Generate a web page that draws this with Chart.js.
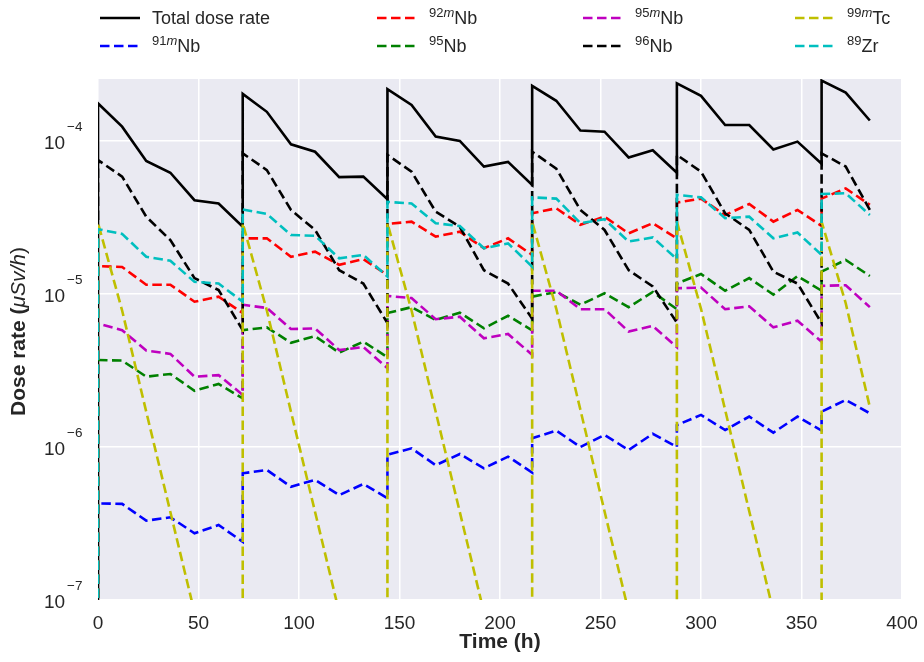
<!DOCTYPE html>
<html>
<head>
<meta charset="utf-8">
<script src="https://cdn.jsdelivr.net/npm/chart.js@4/dist/chart.umd.min.js"></script>
<style>
  body { margin: 0; background: #fff; }
  #wrap { position: relative; width: 924px; height: 662px; font-family: "Liberation Sans", Arial, sans-serif; color: #262626; }
  .item { position: absolute; display: flex; align-items: center; height: 20px; font-size: 18px; white-space: nowrap; }
  .item svg { margin-right: 12px; }
  .item sup { font-size: 13px; vertical-align: 0; position: relative; top: -7px; }
</style>
</head>
<body>
<div id="wrap">
  <canvas id="chart" width="924" height="662"></canvas>
</div>
<script>
// time points (h): each irradiation at 72 h steps gives a jump at the same time value
const times = [0, 0, 12, 24, 36, 48, 60, 72,
  72, 84, 96, 108, 120, 132, 144,
  144, 156, 168, 180, 192, 204, 216,
  216, 228, 240, 252, 264, 276, 288,
  288, 300, 312, 324, 336, 348, 360,
  360, 372, 384]

// dose rates (uSv/h), first value is the pre-irradiation level (below the axis)
const totalRate = [1e-9,
  1.76e-4, 1.24e-4, 7.4e-5, 6.2e-5, 4.1e-5, 3.9e-5, 2.75e-5,
  2.03e-4, 1.55e-4, 9.5e-5, 8.5e-5, 5.8e-5, 5.85e-5, 4.16e-5,
  2.18e-4, 1.72e-4, 1.07e-4, 1.0e-4, 6.8e-5, 7.3e-5, 5.15e-5,
  2.29e-4, 1.83e-4, 1.17e-4, 1.15e-4, 7.8e-5, 8.7e-5, 6.2e-5,
  2.38e-4, 1.97e-4, 1.27e-4, 1.27e-4, 8.8e-5, 9.9e-5, 7.1e-5,
  2.48e-4, 2.07e-4, 1.36e-4]
const nb91m = [1e-9,
  4.28e-7, 4.25e-7, 3.3e-7, 3.47e-7, 2.73e-7, 3.09e-7, 2.4e-7,
  6.73e-7, 7.08e-7, 5.5e-7, 6.1e-7, 4.85e-7, 5.73e-7, 4.63e-7,
  8.9e-7, 9.8e-7, 7.6e-7, 9.0e-7, 7.26e-7, 8.65e-7, 6.8e-7,
  1.14e-6, 1.28e-6, 1.0e-6, 1.2e-6, 9.55e-7, 1.22e-6, 1.0e-6,
  1.39e-6, 1.62e-6, 1.29e-6, 1.58e-6, 1.24e-6, 1.58e-6, 1.28e-6,
  1.7e-6, 2.03e-6, 1.66e-6]
const nb92m = [1e-9,
  1.52e-5, 1.5e-5, 1.15e-5, 1.15e-5, 8.9e-6, 9.6e-6, 7.5e-6,
  2.31e-5, 2.31e-5, 1.75e-5, 1.89e-5, 1.55e-5, 1.69e-5, 1.33e-5,
  2.87e-5, 2.97e-5, 2.37e-5, 2.55e-5, 1.99e-5, 2.31e-5, 1.8e-5,
  3.37e-5, 3.63e-5, 2.83e-5, 3.2e-5, 2.49e-5, 2.9e-5, 2.31e-5,
  3.95e-5, 4.2e-5, 3.28e-5, 3.87e-5, 2.97e-5, 3.54e-5, 2.78e-5,
  4.2e-5, 4.9e-5, 3.82e-5]
const nb95 = [1e-9,
  3.7e-6, 3.67e-6, 2.88e-6, 3.0e-6, 2.33e-6, 2.58e-6, 2.08e-6,
  5.8e-6, 6.05e-6, 4.8e-6, 5.3e-6, 4.13e-6, 4.88e-6, 3.86e-6,
  7.5e-6, 8.2e-6, 6.76e-6, 7.55e-6, 5.97e-6, 7.2e-6, 5.78e-6,
  9.6e-6, 1.03e-5, 8.5e-6, 1.01e-5, 8.2e-6, 1.03e-5, 7.95e-6,
  1.17e-5, 1.35e-5, 1.05e-5, 1.27e-5, 9.9e-6, 1.31e-5, 1.05e-5,
  1.4e-5, 1.67e-5, 1.31e-5]
const nb95m = [1e-9,
  6.4e-6, 5.8e-6, 4.27e-6, 4.06e-6, 2.88e-6, 2.95e-6, 2.19e-6,
  8.5e-6, 8.1e-6, 5.9e-6, 5.95e-6, 4.3e-6, 4.5e-6, 3.27e-6,
  9.7e-6, 9.4e-6, 6.84e-6, 7.1e-6, 5.13e-6, 5.48e-6, 4.0e-6,
  1.05e-5, 1.05e-5, 7.95e-6, 7.95e-6, 5.68e-6, 6.18e-6, 4.49e-6,
  1.09e-5, 1.1e-5, 7.95e-6, 8.3e-6, 6.05e-6, 6.68e-6, 4.88e-6,
  1.13e-5, 1.14e-5, 8.2e-6]
const nb96 = [1e-9,
  7.5e-5, 5.85e-5, 3.2e-5, 2.25e-5, 1.27e-5, 1.06e-5, 5.8e-6,
  8.3e-5, 6.45e-5, 3.54e-5, 2.62e-5, 1.43e-5, 1.17e-5, 6.45e-6,
  8.1e-5, 6.3e-5, 3.45e-5, 2.75e-5, 1.43e-5, 1.17e-5, 6.9e-6,
  8.5e-5, 6.6e-5, 3.54e-5, 2.62e-5, 1.43e-5, 1.12e-5, 6.5e-6,
  8.1e-5, 6.3e-5, 3.37e-5, 2.62e-5, 1.4e-5, 1.17e-5, 6.45e-6,
  8.3e-5, 6.8e-5, 3.54e-5]
const tc99m = [1e-9,
  2.91e-5, 7.8e-6, 1.7e-6, 3.76e-7, 8.3e-8, 1.9e-8, 4.3e-9,
  2.9e-5, 7.8e-6, 1.7e-6, 3.76e-7, 8.3e-8, 1.9e-8, 4.3e-9,
  2.9e-5, 7.8e-6, 1.7e-6, 3.76e-7, 8.3e-8, 1.9e-8, 4.3e-9,
  2.97e-5, 8.0e-6, 1.75e-6, 3.8e-7, 8.4e-8, 1.9e-8, 4.3e-9,
  2.97e-5, 8.0e-6, 1.75e-6, 3.8e-7, 8.4e-8, 1.9e-8, 4.3e-9,
  2.97e-5, 8.7e-6, 1.82e-6]
const zr89 = [1e-9,
  2.65e-5, 2.47e-5, 1.75e-5, 1.65e-5, 1.2e-5, 1.17e-5, 8.9e-6,
  3.57e-5, 3.33e-5, 2.43e-5, 2.4e-5, 1.71e-5, 1.8e-5, 1.3e-5,
  4.0e-5, 3.9e-5, 2.9e-5, 2.78e-5, 1.99e-5, 2.14e-5, 1.51e-5,
  4.28e-5, 4.2e-5, 2.9e-5, 3.08e-5, 2.2e-5, 2.34e-5, 1.69e-5,
  4.44e-5, 4.28e-5, 3.13e-5, 3.2e-5, 2.31e-5, 2.52e-5, 1.8e-5,
  4.5e-5, 4.55e-5, 3.28e-5]

const xTicks = [0, 50, 100, 150, 200, 250, 300, 350, 400]
const yTicks = [1e-7, 1e-6, 1e-5, 1e-4]
const yExponents = ['7', '6', '5', '4']

// plotting order (matplotlib legend is column-major, 4 columns)
const series = [
  { label: 'Total dose rate', html: 'Total dose rate', data: totalRate, color: '#000000', dashed: false },
  { label: '91mNb', html: '<sup>91<i>m</i></sup>Nb', data: nb91m, color: '#0000ff', dashed: true },
  { label: '92mNb', html: '<sup>92<i>m</i></sup>Nb', data: nb92m, color: '#ff0000', dashed: true },
  { label: '95Nb', html: '<sup>95</sup>Nb', data: nb95, color: '#008000', dashed: true },
  { label: '95mNb', html: '<sup>95<i>m</i></sup>Nb', data: nb95m, color: '#bf00bf', dashed: true },
  { label: '96Nb', html: '<sup>96</sup>Nb', data: nb96, color: '#000000', dashed: true },
  { label: '99mTc', html: '<sup>99<i>m</i></sup>Tc', data: tc99m, color: '#bfbf00', dashed: true },
  { label: '89Zr', html: '<sup>89</sup>Zr', data: zr89, color: '#00bfbf', dashed: true },
]

const DASH = [9.5, 4.5]
const LW = 2.6
const FONT = '"Liberation Sans", Arial, sans-serif'

// html legend
const legendCols = [100, 377, 583, 795]
const legendRows = [8, 36]
const wrap = document.getElementById('wrap')
series.forEach((s, i) => {
  const col = Math.floor(i / 2), row = i % 2
  const div = document.createElement('div')
  div.className = 'item'
  div.style.left = legendCols[col] + 'px'
  div.style.top = legendRows[row] + 'px'
  const dash = s.dashed ? ` stroke-dasharray="${DASH.join(' ')}"` : ''
  div.innerHTML = `<svg width="40" height="6"><line x1="0" y1="3" x2="40" y2="3" stroke="${s.color}" stroke-width="${LW}"${dash}/></svg><span>${s.html}</span>`
  wrap.appendChild(div)
})

const decor = {
  id: 'decor',
  beforeDraw(chart) {
    const { ctx, chartArea: a } = chart
    ctx.save()
    ctx.fillStyle = '#eaeaf2'
    ctx.fillRect(a.left, a.top, a.right - a.left, a.bottom - a.top)
    ctx.restore()
  },
  afterDraw(chart) {
    const { ctx, chartArea: a, scales: { y } } = chart
    ctx.save()
    ctx.fillStyle = '#262626'
    ctx.textBaseline = 'middle'
    ctx.textAlign = 'left'
    yTicks.forEach((v, i) => {
      const py = y.getPixelForValue(v)
      ctx.font = '19px ' + FONT
      ctx.fillText('10', 44, py + 3)
      ctx.font = '13.5px ' + FONT
      ctx.fillText('\u2212' + yExponents[i], 67, py - 14)
    })

    // x title
    ctx.textAlign = 'center'
    ctx.font = 'bold 21px ' + FONT
    ctx.fillText('Time (h)', (a.left + a.right) / 2, 642)

    // y title: bold text with italic math part
    const parts = [
      ['bold 21px ' + FONT, 'Dose rate ('],
      ['italic 21px ' + FONT, '\u03bcSv/h'],
      ['21px ' + FONT, ')'],
    ]
    let total = 0
    parts.forEach(p => { ctx.font = p[0]; total += ctx.measureText(p[1]).width })
    ctx.translate(19, (a.top + a.bottom) / 2 - 8)
    ctx.rotate(-Math.PI / 2)
    ctx.textAlign = 'left'
    let x = -total / 2
    parts.forEach(p => {
      ctx.font = p[0]
      ctx.fillText(p[1], x, 0)
      x += ctx.measureText(p[1]).width
    })
    ctx.restore()
  }
}

new Chart(document.getElementById('chart'), {
  type: 'line',
  data: {
    datasets: series.map((s, i) => ({
      label: s.label,
      data: times.map((t, j) => ({ x: t, y: s.data[j] })),
      borderColor: s.color,
      borderWidth: LW,
      borderDash: s.dashed ? DASH : [],
      pointRadius: 0,
      tension: 0,
      fill: false,
      order: series.length - i,
    }))
  },
  options: {
    responsive: false,
    animation: false,
    devicePixelRatio: 1,
    layout: { padding: { top: 79, right: 22, left: 0, bottom: 0 } },
    plugins: { legend: { display: false }, tooltip: { enabled: false } },
    scales: {
      x: {
        type: 'linear',
        min: 0,
        max: 400,
        afterBuildTicks: (s) => { s.ticks = xTicks.map(v => ({ value: v })) },
        afterFit: (s) => { s.height = 62; s.paddingLeft = 0; s.paddingRight = 0 },
        grid: { color: '#ffffff', lineWidth: 1.5, drawTicks: false },
        border: { display: false },
        ticks: {
          color: '#262626',
          padding: 12,
          maxRotation: 0,
          font: { family: FONT, size: 19 },
        },
      },
      y: {
        type: 'logarithmic',
        min: 1e-7,
        max: 2.54e-4,
        afterBuildTicks: (s) => { s.ticks = yTicks.map(v => ({ value: v })) },
        afterFit: (s) => { s.width = 98 },
        grid: { color: '#ffffff', lineWidth: 1.5, drawTicks: false },
        border: { display: false },
        ticks: { display: false },
      },
    },
  },
  plugins: [decor],
})
</script>
</body>
</html>
